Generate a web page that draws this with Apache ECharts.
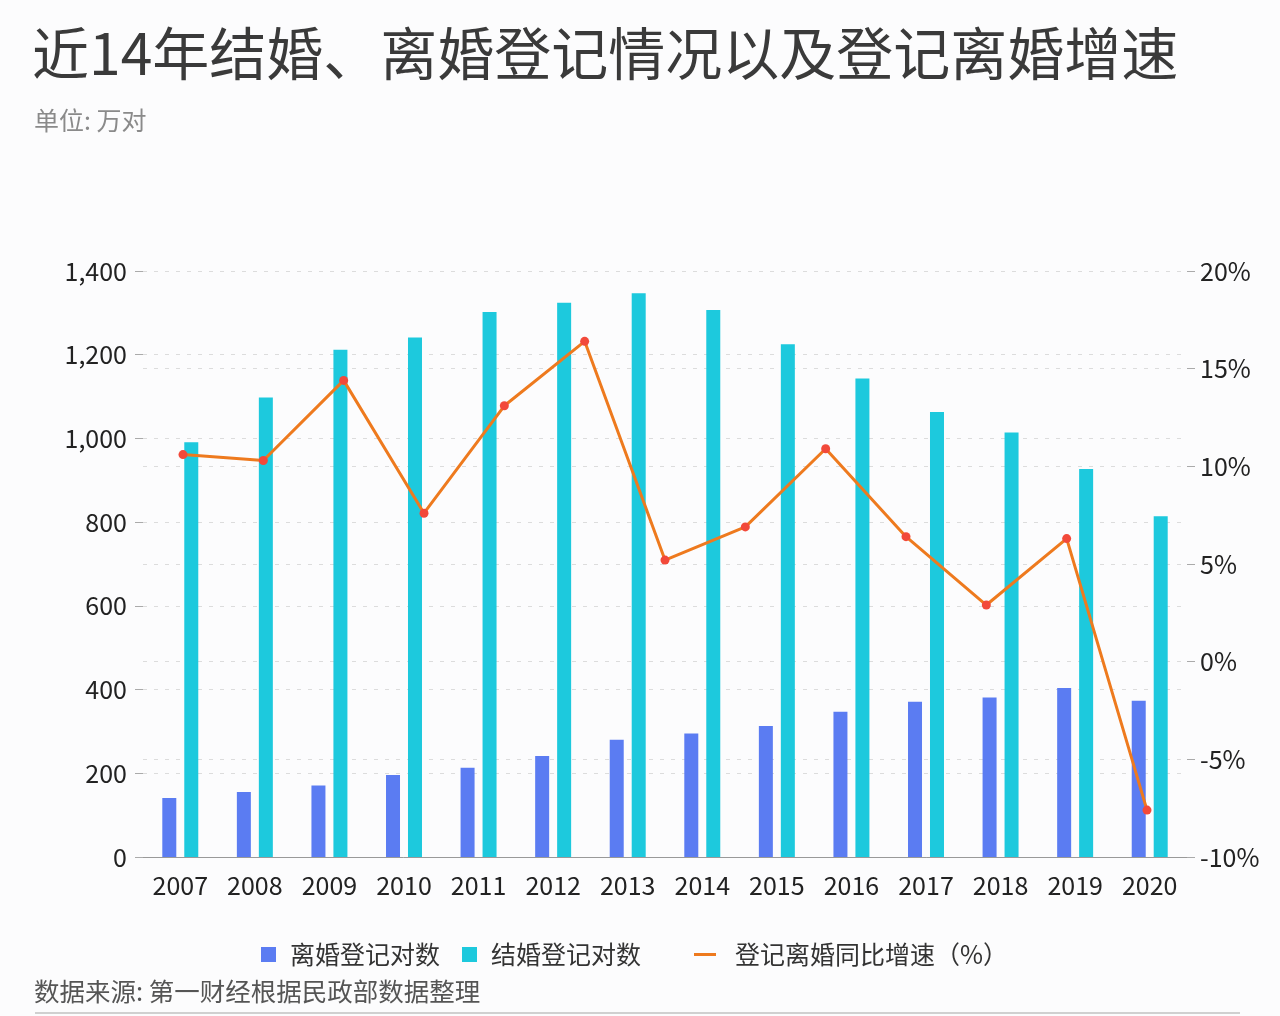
<!DOCTYPE html>
<html>
<head>
<meta charset="utf-8">
<script src="https://cdn.jsdelivr.net/npm/echarts@6/dist/echarts.min.js"></script>
<style>
html,body{margin:0;padding:0;background:#fcfcfd;}
#chart{width:1280px;height:1016px;}
</style>
</head>
<body>
<div id="chart"></div>
<script>
const years = ['2007','2008','2009','2010','2011','2012','2013','2014','2015','2016','2017','2018','2019','2020'];
const divorceCounts = [141, 155, 171, 196, 213, 241, 280, 295, 313, 347, 371, 381, 404, 373];
const marriageCounts = [991, 1098, 1212, 1241, 1302, 1324, 1347, 1307, 1225, 1143, 1063, 1014, 927, 814];
const growthLabels = ['2008','2009','2010','2011','2012','2013','2014','2015','2016','2017','2018','2019','2020'];
const divorceGrowth = [10.6, 10.3, 14.4, 7.6, 13.1, 16.4, 5.2, 6.9, 10.9, 6.4, 2.9, 6.3, -7.6];
const leftTicks = {min: 0, max: 1400, interval: 200};
const rightTicks = {min: -10, max: 20, interval: 5};

const FONT = 'Noto Sans CJK SC';
const chart = echarts.init(document.getElementById('chart'));
const gridTop = 271, gridBottom = 159;
chart.setOption({
  backgroundColor: '#fcfcfd',
  textStyle: {fontFamily: FONT},
  title: [
    {text: '近14年结婚、离婚登记情况以及登记离婚增速', left: 32, top: 25, padding: 0,
     textStyle: {fontFamily: FONT, fontSize: 57, fontWeight: 'normal', color: '#3a3a3a'}},
    {text: '单位: 万对', left: 34, top: 108, padding: 0,
     textStyle: {fontFamily: FONT, fontSize: 25, fontWeight: 'normal', color: '#8a8a8a'}},
    {text: '数据来源: 第一财经根据民政部数据整理', left: 34, top: 979, padding: 0,
     textStyle: {fontFamily: FONT, fontSize: 25.5, fontWeight: 'normal', color: '#555'}}
  ],
  legend: [
    {data: ['离婚登记对数', '结婚登记对数'], left: 256, top: 937, itemWidth: 15, itemHeight: 15, itemGap: 22,
     icon: 'rect', textStyle: {fontFamily: FONT, fontSize: 25, color: '#333', padding: [0,0,0,9]}},
    {data: [{name: '登记离婚同比增速（%）', icon: 'rect', itemStyle: {color: '#EE7A1E'}}],
     left: 689, top: 937, itemWidth: 22, itemHeight: 3,
     textStyle: {fontFamily: FONT, fontSize: 25, color: '#333', padding: [0,0,0,14]}}
  ],
  graphic: [
    {type: 'line', shape: {x1: 35, y1: 1013, x2: 1240, y2: 1013}, style: {stroke: '#d0d0d0', lineWidth: 2}}
  ],
  grid: [
    {left: 143, right: 93, top: gridTop, bottom: gridBottom},
    {left: 183, right: 133, top: gridTop, bottom: gridBottom}
  ],
  xAxis: [
    {type: 'category', gridIndex: 0, data: years,
     axisLine: {lineStyle: {color: '#999', width: 1}},
     axisTick: {alignWithLabel: true, length: 6, lineStyle: {color: '#aaa'}},
     axisLabel: {fontFamily: FONT, fontSize: 25, color: '#222', margin: 16}},
    {type: 'category', gridIndex: 1, data: growthLabels, boundaryGap: false, show: false}
  ],
  yAxis: [
    {type: 'value', gridIndex: 0, position: 'left', min: leftTicks.min, max: leftTicks.max, interval: leftTicks.interval,
     axisLine: {show: false},
     axisTick: {show: true, length: 8, lineStyle: {color: '#aaa'}},
     axisLabel: {fontFamily: FONT, fontSize: 25, color: '#222', margin: 16,
                 formatter: v => v.toLocaleString('en-US')},
     splitLine: {show: true, lineStyle: {color: '#dcdcdc', type: [4, 7]}}},
    {type: 'value', gridIndex: 0, position: 'right', min: rightTicks.min, max: rightTicks.max, interval: rightTicks.interval,
     axisLine: {show: false},
     axisTick: {show: true, length: 8, lineStyle: {color: '#aaa'}},
     axisLabel: {fontFamily: FONT, fontSize: 25, color: '#222', margin: 13, formatter: '{value}%'},
     splitLine: {show: true, lineStyle: {color: '#dcdcdc', type: [4, 7]}}},
    {type: 'value', gridIndex: 1, min: rightTicks.min, max: rightTicks.max, show: false}
  ],
  series: [
    {name: '离婚登记对数', type: 'bar', xAxisIndex: 0, yAxisIndex: 0, data: divorceCounts,
     barWidth: 14, barGap: '57%', itemStyle: {color: '#5B7CF2'}},
    {name: '结婚登记对数', type: 'bar', xAxisIndex: 0, yAxisIndex: 0, data: marriageCounts,
     barWidth: 14, barGap: '57%', itemStyle: {color: '#1DC9DD'}},
    {name: '登记离婚同比增速（%）', type: 'line', xAxisIndex: 1, yAxisIndex: 2, data: divorceGrowth,
     symbol: 'circle', symbolSize: 9, z: 5,
     lineStyle: {color: '#EE7A1E', width: 3},
     itemStyle: {color: '#F2493A'}}
  ]
});
</script>
</body>
</html>
